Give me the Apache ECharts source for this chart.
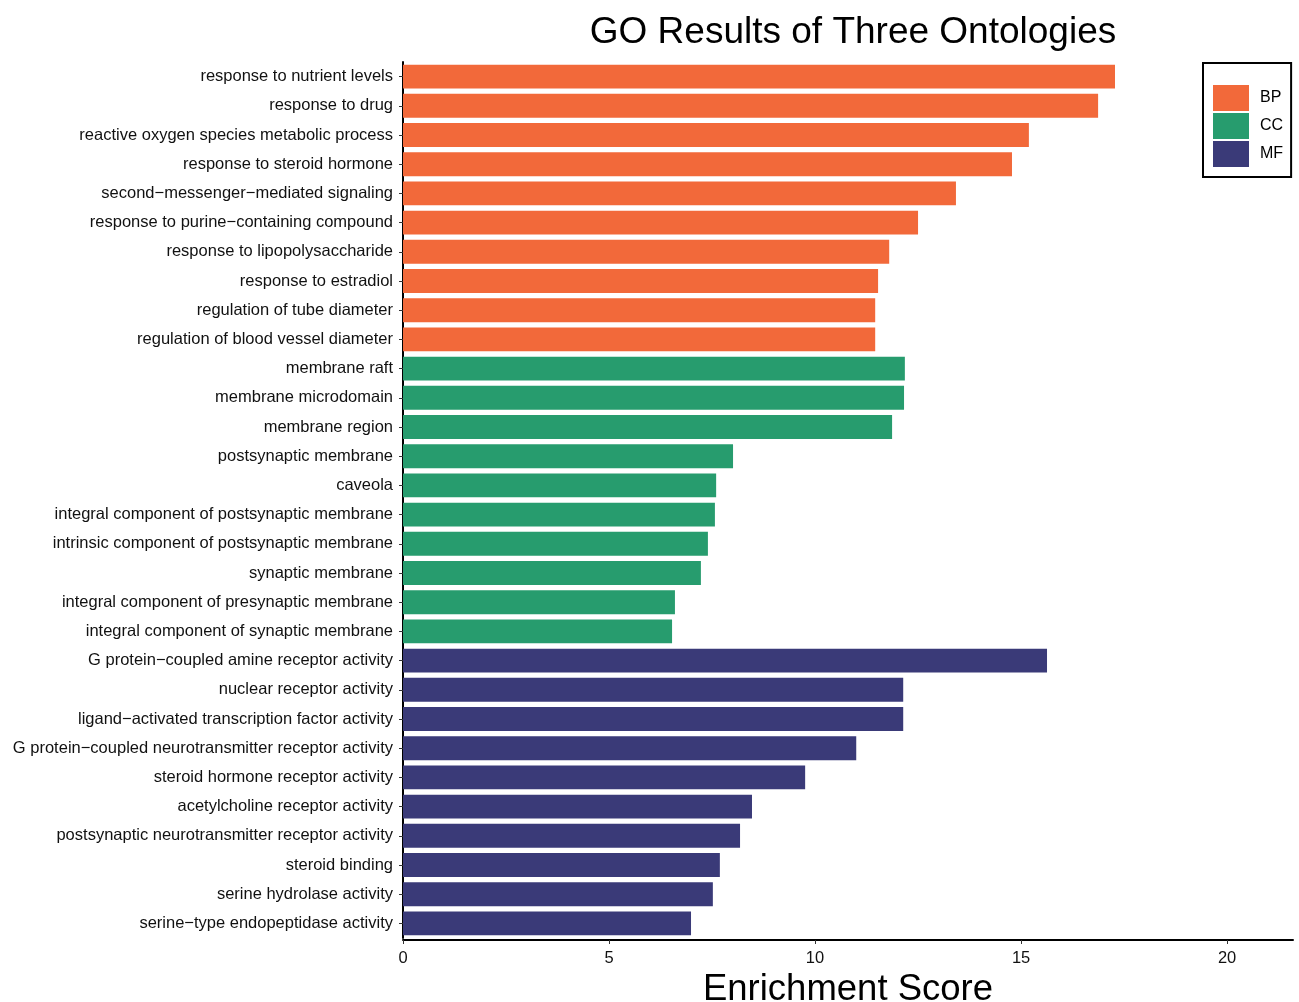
<!DOCTYPE html>
<html>
<head>
<meta charset="utf-8">
<script src="https://cdn.jsdelivr.net/npm/echarts@6/dist/echarts.min.js"></script>
<style>
  html, body { margin: 0; padding: 0; background: #fff; }
  #chart { width: 1299px; height: 1002px; }
</style>
</head>
<body>
<div id="chart"></div>
<script>
// GO terms, top to bottom
var terms = [
  'response to nutrient levels',
  'response to drug',
  'reactive oxygen species metabolic process',
  'response to steroid hormone',
  'second\u2212messenger\u2212mediated signaling',
  'response to purine\u2212containing compound',
  'response to lipopolysaccharide',
  'response to estradiol',
  'regulation of tube diameter',
  'regulation of blood vessel diameter',
  'membrane raft',
  'membrane microdomain',
  'membrane region',
  'postsynaptic membrane',
  'caveola',
  'integral component of postsynaptic membrane',
  'intrinsic component of postsynaptic membrane',
  'synaptic membrane',
  'integral component of presynaptic membrane',
  'integral component of synaptic membrane',
  'G protein\u2212coupled amine receptor activity',
  'nuclear receptor activity',
  'ligand\u2212activated transcription factor activity',
  'G protein\u2212coupled neurotransmitter receptor activity',
  'steroid hormone receptor activity',
  'acetylcholine receptor activity',
  'postsynaptic neurotransmitter receptor activity',
  'steroid binding',
  'serine hydrolase activity',
  'serine\u2212type endopeptidase activity'
]

var scores = [
  17.28, 16.87, 15.19, 14.78, 13.42, 12.50, 11.80, 11.53, 11.46, 11.46,
  12.18, 12.16, 11.87, 8.01, 7.60, 7.57, 7.40, 7.23, 6.60, 6.53,
  15.63, 12.14, 12.14, 11.00, 9.76, 8.47, 8.18, 7.69, 7.52, 6.99
]

var groups = [
  'BP', 'BP', 'BP', 'BP', 'BP', 'BP', 'BP', 'BP', 'BP', 'BP',
  'CC', 'CC', 'CC', 'CC', 'CC', 'CC', 'CC', 'CC', 'CC', 'CC',
  'MF', 'MF', 'MF', 'MF', 'MF', 'MF', 'MF', 'MF', 'MF', 'MF'
]

var ontologies = ['BP', 'CC', 'MF']
var colors = {BP: '#F2693A', CC: '#279C6E', MF: '#3A3A78'}
var xTicks = [0, 5, 10, 15, 20]

var series = ontologies.map(function (g) {
  return {
    name: g,
    type: 'bar',
    stack: 'go',
    barCategoryGap: '18%',
    itemStyle: { color: colors[g] },
    data: scores.map(function (v, i) {
      return groups[i] === g ? v : null
    })
  }
})

var myChart = echarts.init(document.getElementById('chart'))
myChart.setOption({
  animation: false,
  textStyle: { fontFamily: 'Liberation Sans, Arial, sans-serif' },
  title: {
    text: 'GO Results of Three Ontologies',
    left: 848,
    top: 9,
    textAlign: 'center',
    textStyle: { fontSize: 37, fontWeight: 'normal', color: '#000' }
  },
  legend: {
    data: ontologies,
    orient: 'vertical',
    left: 1203,
    top: 63,
    icon: 'rect',
    itemWidth: 36,
    itemHeight: 26,
    itemGap: 2,
    padding: [22, 8, 10, 10],
    borderColor: '#000',
    borderWidth: 2,
    textStyle: { fontSize: 16, color: '#000', padding: [0, 0, 0, 6] }
  },
  grid: {
    left: 403,
    right: 6,
    top: 62,
    bottom: 64,
    outerBoundsMode: 'none'
  },
  xAxis: {
    type: 'value',
    min: 0,
    max: 21.6,
    interval: 5,
    offset: 2,
    name: 'Enrichment Score',
    nameLocation: 'middle',
    nameGap: 27,
    nameTextStyle: { fontSize: 36.5, color: '#000' },
    splitLine: { show: false },
    axisLine: { show: true, lineStyle: { color: '#000', width: 2 } },
    axisTick: { show: true, length: 4, customValues: xTicks, lineStyle: { color: '#333' } },
    axisLabel: { fontSize: 16.5, color: '#111', margin: 10, customValues: xTicks }
  },
  yAxis: {
    type: 'category',
    inverse: true,
    data: terms,
    axisLine: { show: true, lineStyle: { color: '#000', width: 2 } },
    axisTick: { show: true, length: 4, alignWithLabel: true, lineStyle: { color: '#333' } },
    axisLabel: { fontSize: 16.5, color: '#111', margin: 10, interval: 0, padding: [3, 0, 0, 0] }
  },
  series: series
})
</script>
</body>
</html>
